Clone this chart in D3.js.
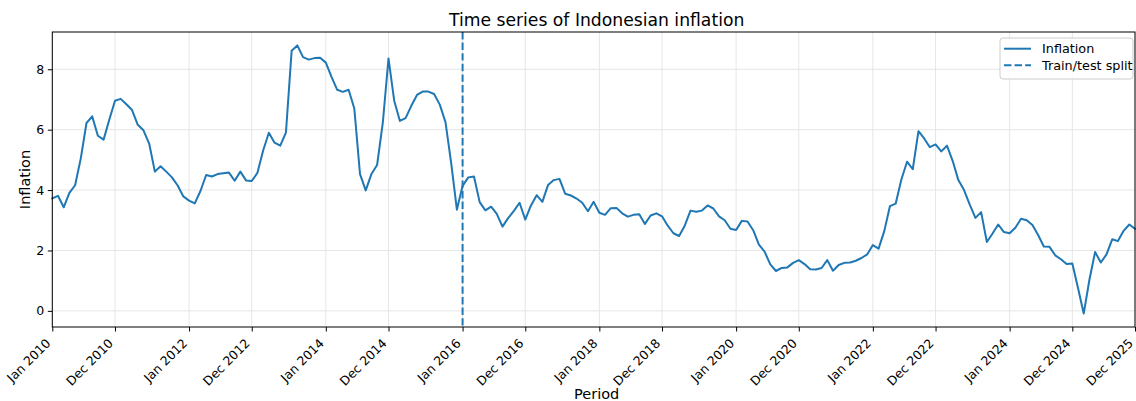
<!DOCTYPE html>
<html>
<head>
<meta charset="utf-8">
<script src="https://cdn.jsdelivr.net/npm/d3@7"></script>
<style>
  body { margin: 0; background: #fff; }
  svg { display: block; }
  text { font-family: "DejaVu Sans", sans-serif; fill: #000; }
</style>
</head>
<body>
<svg id="chart" width="1136" height="401"></svg>
<script>
// Monthly year-on-year CPI inflation, Jan 2010 onwards (percent)
const inflation = [
  3.72, 3.81, 3.43, 3.91, 4.16, 5.05, 6.22, 6.44, 5.80, 5.67, 6.33, 6.96, // 2010
  7.02, 6.84, 6.65, 6.16, 5.98, 5.54, 4.61, 4.79, 4.61, 4.42, 4.15, 3.79, // 2011
  3.65, 3.56, 3.97, 4.50, 4.45, 4.53, 4.56, 4.58, 4.31, 4.61, 4.32, 4.30, // 2012
  4.57, 5.31, 5.90, 5.57, 5.47, 5.90, 8.61, 8.79, 8.40, 8.32, 8.37, 8.38, // 2013
  8.22, 7.75, 7.32, 7.25, 7.32, 6.70, 4.53, 3.99, 4.53, 4.83, 6.23, 8.36, // 2014
  6.96, 6.29, 6.38, 6.79, 7.15, 7.26, 7.26, 7.18, 6.83, 6.25, 4.89, 3.35, // 2015
  4.14, 4.42, 4.45, 3.60, 3.33, 3.45, 3.21, 2.79, 3.07, 3.31, 3.58, 3.02, // 2016
  3.49, 3.83, 3.61, 4.17, 4.33, 4.37, 3.88, 3.82, 3.72, 3.58, 3.30, 3.61, // 2017
  3.25, 3.18, 3.40, 3.41, 3.23, 3.12, 3.18, 3.20, 2.88, 3.16, 3.23, 3.13, // 2018
  2.82, 2.57, 2.48, 2.83, 3.32, 3.28, 3.32, 3.49, 3.39, 3.13, 3.00, 2.72, // 2019
  2.68, 2.98, 2.96, 2.67, 2.19, 1.96, 1.54, 1.32, 1.42, 1.44, 1.59, 1.68, // 2020
  1.55, 1.38, 1.37, 1.42, 1.68, 1.33, 1.52, 1.59, 1.60, 1.66, 1.75, 1.87, // 2021
  2.18, 2.06, 2.64, 3.47, 3.55, 4.35, 4.94, 4.69, 5.95, 5.71, 5.42, 5.51, // 2022
  5.28, 5.47, 4.97, 4.33, 4.00, 3.52, 3.08, 3.27, 2.28, 2.56, 2.86, 2.61, // 2023
  2.57, 2.75, 3.05, 3.00, 2.84, 2.51, 2.13, 2.12, 1.84, 1.71, 1.55, 1.57, // 2024
  0.76, -0.09, 1.03, 1.95, 1.60, 1.87, 2.37, 2.31, 2.65, 2.86, 2.72        // 2025
];

// Tick positions (month index from Jan 2010) and their labels
const tickMonths = [0, 11, 24, 35, 48, 59, 72, 83, 96, 107, 120, 131, 144, 155, 168, 179, 190];
const tickLabels = ["Jan 2010", "Dec 2010", "Jan 2012", "Dec 2012", "Jan 2014", "Dec 2014",
                    "Jan 2016", "Dec 2016", "Jan 2018", "Dec 2018", "Jan 2020", "Dec 2020",
                    "Jan 2022", "Dec 2022", "Jan 2024", "Dec 2024", "Dec 2025"];
const yTicks = [0, 2, 4, 6, 8];

// Train/test split month (Jan 2016)
const splitMonth = 72;

const color = "#1f77b4";
const svg = d3.select("#chart");
const plot = { left: 52.3, right: 1135, top: 32, bottom: 327 };

const x = d3.scaleLinear()
  .domain([0, inflation.length - 1])
  .range([plot.left, plot.right]);

const [lo, hi] = d3.extent(inflation);
const pad = (hi - lo) * 0.05;
const y = d3.scaleLinear()
  .domain([lo - pad, hi + pad])
  .range([plot.bottom, plot.top]);

// grid
const grid = svg.append("g").attr("stroke", "#e6e6e6").attr("stroke-width", 1);
grid.selectAll(".gx").data(tickMonths).join("line")
  .attr("x1", d => x(d)).attr("x2", d => x(d))
  .attr("y1", plot.top).attr("y2", plot.bottom);
grid.selectAll(".gy").data(yTicks).join("line")
  .attr("x1", plot.left).attr("x2", plot.right)
  .attr("y1", d => y(d)).attr("y2", d => y(d));

// series line
const line = d3.line().x((d, i) => x(i)).y(d => y(d));
svg.append("path")
  .datum(inflation)
  .attr("fill", "none")
  .attr("stroke", color)
  .attr("stroke-width", 2)
  .attr("stroke-linejoin", "round")
  .attr("stroke-linecap", "square")
  .attr("d", line);

// split marker
svg.append("line")
  .attr("x1", x(splitMonth)).attr("x2", x(splitMonth))
  .attr("y1", plot.top).attr("y2", plot.bottom)
  .attr("stroke", color)
  .attr("stroke-width", 2)
  .attr("stroke-dasharray", "7.4,3.2");

// axes
const xAxis = svg.append("g")
  .attr("transform", `translate(0,${plot.bottom})`)
  .call(d3.axisBottom(x).tickValues(tickMonths).tickFormat((d, i) => tickLabels[i])
    .tickSize(4.5).tickSizeOuter(0));
xAxis.select(".domain").remove();
xAxis.selectAll(".tick line").attr("stroke", "#000").attr("stroke-width", 1);
xAxis.selectAll(".tick text")
  .attr("font-size", 12.5)
  .attr("text-anchor", "end")
  .attr("dy", null)
  .attr("y", 0)
  .attr("transform", "translate(-1.5,17) rotate(-45)");

const yAxis = svg.append("g")
  .attr("transform", `translate(${plot.left},0)`)
  .call(d3.axisLeft(y).tickValues(yTicks).tickFormat(d3.format("d")).tickSize(4.5).tickSizeOuter(0));
yAxis.select(".domain").remove();
yAxis.selectAll(".tick line").attr("stroke", "#000").attr("stroke-width", 1);
yAxis.selectAll(".tick text").attr("font-size", 12.5).attr("x", -8);

// frame
svg.append("rect")
  .attr("x", plot.left).attr("y", plot.top)
  .attr("width", plot.right - plot.left).attr("height", plot.bottom - plot.top)
  .attr("fill", "none").attr("stroke", "#000").attr("stroke-width", 1);

// titles
svg.append("text")
  .attr("x", (plot.left + plot.right) / 2 + 3).attr("y", 26)
  .attr("text-anchor", "middle").attr("font-size", 17.2)
  .text("Time series of Indonesian inflation");
svg.append("text")
  .attr("x", (plot.left + plot.right) / 2 + 3).attr("y", 399)
  .attr("text-anchor", "middle").attr("font-size", 14.5)
  .text("Period");
svg.append("text")
  .attr("transform", `translate(30,${(plot.top + plot.bottom) / 2}) rotate(-90)`)
  .attr("text-anchor", "middle").attr("font-size", 14.5)
  .text("Inflation");

// legend
const legend = svg.append("g");
legend.append("rect")
  .attr("x", 1000).attr("y", 38).attr("width", 133).attr("height", 41)
  .attr("rx", 3).attr("fill", "#fff").attr("fill-opacity", 0.8)
  .attr("stroke", "#cccccc").attr("stroke-width", 1);
const entries = [
  { label: "Inflation", dash: null },
  { label: "Train/test split", dash: "7.4,3.2" }
];
entries.forEach((e, i) => {
  const cy = 48.7 + i * 16.5;
  legend.append("line")
    .attr("x1", 1004).attr("x2", 1031).attr("y1", cy).attr("y2", cy)
    .attr("stroke", color).attr("stroke-width", 2)
    .attr("stroke-dasharray", e.dash);
  legend.append("text")
    .attr("x", 1042).attr("y", cy + 4.7)
    .attr("font-size", 12.8)
    .text(e.label);
});
</script>
</body>
</html>
